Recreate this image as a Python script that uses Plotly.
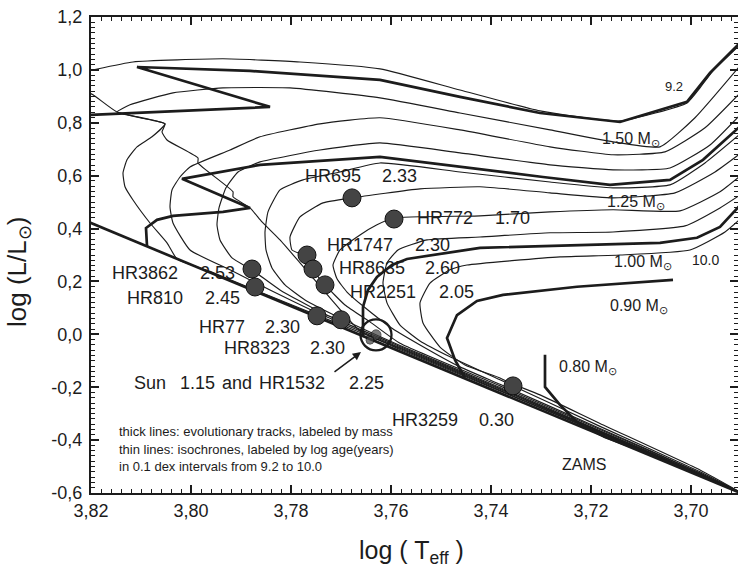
import plotly.graph_objects as go

# ---------------- data (log Teff, log L/Lsun) ----------------
# isochrones (thin lines), log age 9.2 ... 10.0
iso92_T = [3.6892, 3.6982, 3.7182, 3.7382, 3.7582, 3.7662, 3.7722, 3.7782, 3.7822, 3.7858, 3.7882, 3.7916, 3.7916,
           3.7986, 3.7986, 3.8048, 3.8058, 3.8052, 3.8148, 3.8196, 3.8232, 3.8232, 3.8196, 3.8116, 3.7936, 3.7782,
           3.7622, 3.7462, 3.7302, 3.7142, 3.7008, 3.6982, 3.6958, 3.6892]
iso92_L = [-0.607, -0.532, -0.373, -0.214, -0.057, 0.013, 0.138, 0.270, 0.357, 0.425, 0.478, 0.520, 0.539,
           0.648, 0.667, 0.735, 0.765, 0.796, 0.841, 0.906, 0.940, 0.985, 1.000, 1.030, 1.042, 1.030,
           1.004, 0.924, 0.845, 0.807, 0.875, 0.932, 0.992, 1.113]

iso93_T = [3.6892, 3.6982, 3.7182, 3.7382, 3.7582, 3.7742, 3.7862, 3.7962, 3.8028, 3.8048, 3.8082, 3.8116, 3.8132,
           3.8136, 3.8128, 3.8108, 3.8078, 3.8052, 3.8102, 3.8148, 3.8122, 3.8036, 3.7936, 3.7802, 3.7622, 3.7462,
           3.7282, 3.7156, 3.7062, 3.6992, 3.6892]
iso93_L = [-0.607, -0.532, -0.371, -0.212, -0.053, 0.068, 0.160, 0.238, 0.285, 0.346, 0.421, 0.508, 0.558,
           0.610, 0.660, 0.709, 0.747, 0.796, 0.819, 0.841, 0.868, 0.913, 0.932, 0.932, 0.894, 0.837,
           0.773, 0.728, 0.709, 0.819, 1.038]

iso94_T = [3.6892, 3.6982, 3.7182, 3.7382, 3.7582, 3.7742, 3.7842, 3.7922, 3.8002, 3.8036, 3.8042, 3.8038, 3.8022,
           3.8002, 3.7922, 3.7862, 3.7742, 3.7622, 3.7462, 3.7282, 3.7156, 3.7052, 3.6972, 3.6892]
iso94_L = [-0.607, -0.530, -0.369, -0.208, -0.050, 0.077, 0.168, 0.244, 0.319, 0.421, 0.482, 0.546, 0.595,
           0.633, 0.697, 0.747, 0.796, 0.819, 0.773, 0.709, 0.679, 0.690, 0.781, 0.932]

iso95_T = [3.6892, 3.6982, 3.7182, 3.7382, 3.7582, 3.7742, 3.7822, 3.7878, 3.7918, 3.7942, 3.7948, 3.7944, 3.7930,
           3.7906, 3.7862, 3.7742, 3.7622, 3.7462, 3.7282, 3.7156, 3.7042, 3.6962, 3.6892]
iso95_L = [-0.607, -0.528, -0.367, -0.205, -0.046, 0.085, 0.168, 0.244, 0.289, 0.357, 0.414, 0.478, 0.554,
           0.614, 0.652, 0.697, 0.724, 0.686, 0.641, 0.622, 0.629, 0.716, 0.849]

iso96_T = [3.6892, 3.6982, 3.7182, 3.7382, 3.7582, 3.7702, 3.7772, 3.7812, 3.7838, 3.7850, 3.7852, 3.7846, 3.7822,
           3.7776, 3.7702, 3.7622, 3.7462, 3.7282, 3.7156, 3.7042, 3.6972, 3.6892]
iso96_L = [-0.607, -0.528, -0.365, -0.201, -0.042, 0.062, 0.130, 0.187, 0.251, 0.319, 0.387, 0.463, 0.546,
           0.584, 0.614, 0.648, 0.614, 0.576, 0.554, 0.565, 0.648, 0.773]

iso97_T = [3.6892, 3.6982, 3.7182, 3.7382, 3.7582, 3.7642, 3.7692, 3.7732, 3.7756, 3.7772, 3.7798, 3.7802, 3.7782,
           3.7736, 3.7678, 3.7542, 3.7422, 3.7282, 3.7156, 3.7032, 3.6952, 3.6892]
iso97_L = [-0.607, -0.524, -0.360, -0.195, -0.034, 0.047, 0.111, 0.187, 0.244, 0.297, 0.319, 0.368, 0.444,
           0.497, 0.516, 0.550, 0.558, 0.535, 0.516, 0.535, 0.614, 0.697]

iso98_T = [3.6892, 3.6982, 3.7182, 3.7382, 3.7462, 3.7542, 3.7602, 3.7656, 3.7688, 3.7708, 3.7716, 3.7702, 3.7662,
           3.7628, 3.7596, 3.7422, 3.7282, 3.7156, 3.7022, 3.6942, 3.6892]
iso98_L = [-0.607, -0.524, -0.356, -0.189, -0.123, -0.040, 0.028, 0.107, 0.160, 0.210, 0.262, 0.319, 0.376,
           0.414, 0.440, 0.448, 0.463, 0.471, 0.467, 0.539, 0.614]

iso99_T = [3.6892, 3.6982, 3.7182, 3.7382, 3.7482, 3.7542, 3.7582, 3.7608, 3.7616, 3.7608, 3.7586, 3.7528, 3.7422,
           3.7282, 3.7156, 3.7012, 3.6942, 3.6892]
iso99_L = [-0.607, -0.520, -0.348, -0.172, -0.085, -0.025, 0.035, 0.119, 0.194, 0.270, 0.319, 0.357, 0.368,
           0.384, 0.387, 0.410, 0.478, 0.539]

iso100_T = [3.6892, 3.6982, 3.7182, 3.7302, 3.7356, 3.7382, 3.7452, 3.7502, 3.7536, 3.7542, 3.7522, 3.7482, 3.7448,
            3.7262, 3.7142, 3.7002, 3.6932, 3.6892]
iso100_L = [-0.607, -0.513, -0.337, -0.229, -0.188, -0.165, -0.116, -0.048, 0.043, 0.119, 0.194, 0.244, 0.262,
            0.293, 0.300, 0.319, 0.387, 0.452]

# evolutionary tracks (thick lines)
trk150_T = [3.8262, 3.8200, 3.7842, 3.8108, 3.7882, 3.7622, 3.7462, 3.7302, 3.7142, 3.7008, 3.6962, 3.6892]
trk150_L = [0.822, 0.830, 0.860, 1.011, 0.996, 0.962, 0.898, 0.837, 0.803, 0.879, 0.989, 1.121]
trk125_T = [3.8088, 3.8090, 3.8068, 3.8036, 3.7936, 3.7882, 3.8018, 3.7862, 3.7622, 3.7462, 3.7296, 3.7162,
            3.7042, 3.6976, 3.6892]
trk125_L = [0.334, 0.402, 0.433, 0.448, 0.463, 0.478, 0.588, 0.641, 0.671, 0.633, 0.595, 0.565,
            0.584, 0.660, 0.803]
trk100_T = [3.7656, 3.7656, 3.7646, 3.7628, 3.7598, 3.7568, 3.7422, 3.7196, 3.7062, 3.6988, 3.6942, 3.6892]
trk100_L = [-0.010, 0.104, 0.168, 0.217, 0.262, 0.285, 0.327, 0.338, 0.346, 0.365, 0.406, 0.508]
trk090_T = [3.7452, 3.7472, 3.7488, 3.7468, 3.7428, 3.7376, 3.7228, 3.7036]
trk090_L = [-0.165, -0.097, -0.014, 0.073, 0.126, 0.149, 0.180, 0.206]
trk080_T = [3.7092, 3.7172, 3.7226, 3.7262, 3.7292, 3.7292]
trk080_L = [-0.445, -0.388, -0.335, -0.267, -0.199, -0.077]
zams_T = [3.8250, 3.6892]
zams_L = [0.460, -0.607]

# stars
star_names = ["HR695", "HR772", "HR1747", "HR8635", "HR2251", "HR3862", "HR810", "HR77", "HR8323", "HR3259"]
star_ages = ["2.33", "1.70", "2.30", "2.60", "2.05", "2.53", "2.45", "2.30", "2.30", "0.30"]
star_logt = [3.7678, 3.7594, 3.7768, 3.7756, 3.7732, 3.7878, 3.7872, 3.7748, 3.7700, 3.7356]
star_logl = [0.516, 0.436, 0.300, 0.247, 0.187, 0.247, 0.179, 0.070, 0.055, -0.195]
sun_logt, sun_logl = 3.7630, -0.002
hr1532_logt, hr1532_logl = 3.7642, -0.022

# mass labels of the tracks
mass_labels = ["1.50", "1.25", "1.00", "0.90", "0.80"]

# axis ticks
x_tickvals = [3.70, 3.72, 3.74, 3.76, 3.78, 3.80, 3.82]
x_ticktext = ["3,70", "3,72", "3,74", "3,76", "3,78", "3,80", "3,82"]
y_tickvals = [-0.6, -0.4, -0.2, 0.0, 0.2, 0.4, 0.6, 0.8, 1.0, 1.2]
y_ticktext = ["-0,6", "-0,4", "-0,2", "0,0", "0,2", "0,4", "0,6", "0,8", "1,0", "1,2"]

# ---------------- figure ----------------
INK = "#1c1c1c"
FONT = "Liberation Sans, Arial, Helvetica, sans-serif"
fig = go.Figure()

isochrones = [(iso92_T, iso92_L), (iso93_T, iso93_L), (iso94_T, iso94_L), (iso95_T, iso95_L), (iso96_T, iso96_L),
              (iso97_T, iso97_L), (iso98_T, iso98_L), (iso99_T, iso99_L), (iso100_T, iso100_L)]
for T, L in isochrones:
    fig.add_trace(go.Scatter(x=T, y=L, mode="lines", hoverinfo="skip",
                             line=dict(color=INK, width=1.15, shape="spline", smoothing=0.45)))

for T, L in [(trk150_T, trk150_L), (trk125_T, trk125_L), (trk100_T, trk100_L),
             (trk090_T, trk090_L), (trk080_T, trk080_L), (zams_T, zams_L)]:
    fig.add_trace(go.Scatter(x=T, y=L, mode="lines", hoverinfo="skip",
                             line=dict(color=INK, width=2.7)))

fig.add_trace(go.Scatter(x=star_logt, y=star_logl, mode="markers", hoverinfo="skip",
                         marker=dict(size=18, color="#444444", line=dict(color="#111111", width=1))))
fig.add_trace(go.Scatter(x=[sun_logt], y=[sun_logl], mode="markers", hoverinfo="skip",
                         marker=dict(size=31, symbol="circle-open", color=INK, line=dict(width=2.3))))
fig.add_trace(go.Scatter(x=[sun_logt, hr1532_logt], y=[sun_logl, hr1532_logl], mode="markers", hoverinfo="skip",
                         marker=dict(size=[10, 8], color="#444444", line=dict(color="#111111", width=1))))

ann = []
def txt(x, y, s, size=18, xanchor="left"):
    ann.append(dict(x=x, y=y, xref="x", yref="y", text=s, showarrow=False, xanchor=xanchor, yanchor="middle",
                    font=dict(size=size, color=INK, family=FONT)))

# star labels: (name x, age x, y)
label_pos = [(3.7776, 3.7622, 0.599), (3.7552, 3.7396, 0.440), (3.7732, 3.7556, 0.338), (3.7708, 3.7536, 0.251),
             (3.7686, 3.7508, 0.160), (3.8162, 3.7986, 0.232), (3.8132, 3.7976, 0.138), (3.7988, 3.7856, 0.028),
             (3.7938, 3.7766, -0.051), (3.7602, 3.7428, -0.324)]
for name, age, (xn, xa, yl) in zip(star_names, star_ages, label_pos):
    txt(xn, yl, name)
    txt(xa, yl, age)

# Sun line
for s, x in [("Sun", 3.8118), ("1.15", 3.8026), ("and", 3.7942), ("HR1532", 3.7868), ("2.25", 3.7688)]:
    txt(x, -0.184, s)

# mass labels
mass_pos = [(3.7182, 0.735), (3.7172, 0.497), (3.7158, 0.270), (3.7166, 0.107), (3.7268, -0.127)]
for m, (x, y) in zip(mass_labels, mass_pos):
    txt(x, y, m + " M<sub>⊙</sub>", size=16)

txt(3.7056, 0.936, "9.2", size=13)
txt(3.7002, 0.281, "10.0", size=14)
txt(3.7262, -0.494, "ZAMS", size=16)

for s, y in [("thick lines: evolutionary tracks, labeled by mass", -0.369),
             ("thin lines: isochrones, labeled by log age(years)", -0.437),
             ("in 0.1 dex intervals from 9.2 to 10.0", -0.501)]:
    txt(3.8148, y, s, size=13)

# arrow to the Sun
ann.append(dict(x=3.7660, y=-0.067, xref="x", yref="y", ax=-28, ay=21, text="", showarrow=True,
                arrowhead=2, arrowsize=1.1, arrowwidth=1.5, arrowcolor=INK))

# axis titles
ann.append(dict(x=-0.113, y=0.464, xref="paper", yref="paper", text="log (L/L<sub>⊙</sub>)", showarrow=False,
                textangle=-90, xanchor="center", yanchor="middle", font=dict(size=26, color=INK, family=FONT)))
ann.append(dict(x=0.496, y=-0.124, xref="paper", yref="paper", text="log ( T<sub>eff</sub> )", showarrow=False,
                xanchor="center", yanchor="middle", font=dict(size=25, color=INK, family=FONT)))

axis_common = dict(ticks="inside", tickcolor=INK, tickwidth=1.5, showline=True, linecolor=INK, linewidth=2,
                   mirror="ticks", showgrid=False, zeroline=False, automargin=False,
                   tickfont=dict(size=18, color=INK, family=FONT))
fig.update_layout(
    width=738, height=575, margin=dict(l=91, r=0, t=17, b=82, autoexpand=False),
    paper_bgcolor="white", plot_bgcolor="white", showlegend=False,
    font=dict(family=FONT, color=INK),
    annotations=ann,
    xaxis=dict(range=[3.82, 3.6906], tickmode="array", tickvals=x_tickvals, ticktext=x_ticktext, ticklen=8,
               minor=dict(tickmode="linear", tick0=3.70, dtick=0.002, ticks="inside", ticklen=4,
                          tickcolor=INK, tickwidth=1, showgrid=False), **axis_common),
    yaxis=dict(range=[-0.6, 1.2], tickmode="array", tickvals=y_tickvals, ticktext=y_ticktext, ticklen=8,
               ticklabelstandoff=3,
               minor=dict(tickmode="linear", tick0=0.0, dtick=0.02, ticks="inside", ticklen=4,
                          tickcolor=INK, tickwidth=1, showgrid=False), **axis_common),
)
fig.write_html("out.html", config={"displayModeBar": False},
               post_script="document.body.style.margin='0px';document.body.style.padding='0px';")
